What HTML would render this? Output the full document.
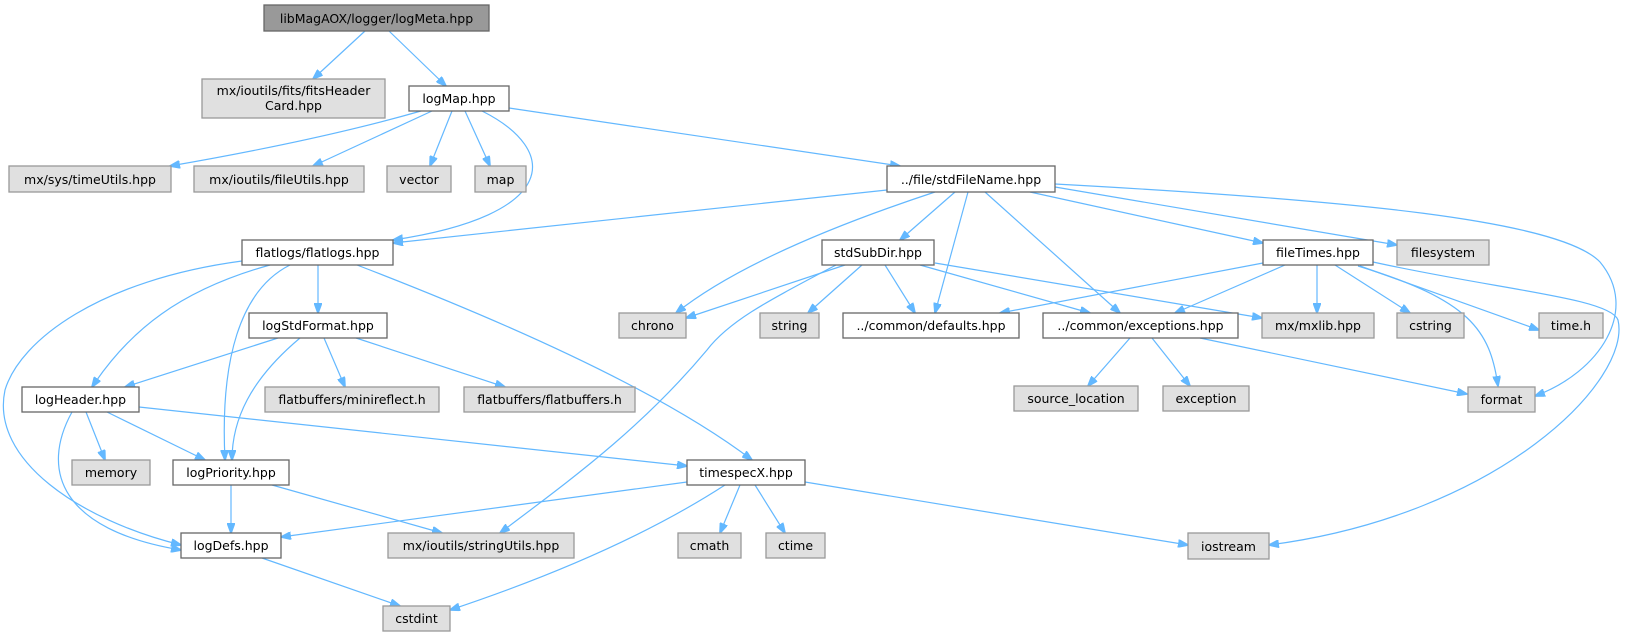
<!DOCTYPE html>
<html><head><meta charset="utf-8"><style>
html,body{margin:0;padding:0;background:#fff;}
svg{display:block;}
text{font-family:"DejaVu Sans","Liberation Sans",sans-serif;font-size:12.5px;fill:#000;text-anchor:middle;}
.w{fill:#fff;stroke:#666;stroke-width:1.3;}
.g{fill:#e0e0e0;stroke:#999;stroke-width:1.3;}
.r{fill:#999;stroke:#666;stroke-width:1.3;}
path{fill:none;stroke:#63b8ff;stroke-width:1.2;}
</style></head><body>
<svg width="1629" height="637" viewBox="0 0 1629 637" xmlns="http://www.w3.org/2000/svg">
<defs><marker id="a" markerWidth="11" markerHeight="8" refX="10" refY="4" orient="auto" markerUnits="userSpaceOnUse"><path d="M0,0 L11,4 L0,8 Z" style="fill:#63b8ff;stroke:#63b8ff;stroke-width:1"/></marker></defs>
<g marker-end="url(#a)">
<path d="M365,31 L313,79"/>
<path d="M389,31 L446,86"/>
<path d="M421,111 Q320,140 170,166"/>
<path d="M432,111 L313,166"/>
<path d="M452,111 L430,166"/>
<path d="M465,111 L490,166"/>
<path d="M482,111 C560,150 560,215 393,240"/>
<path d="M509,108 L900,166"/>
<path d="M887,190 L393,243"/>
<path d="M935,192 C820,230 730,270 676,313"/>
<path d="M955,192 L900,240"/>
<path d="M968,192 L935,313"/>
<path d="M985,192 L1120,313"/>
<path d="M1030,192 L1263,243"/>
<path d="M1055,187 L1397,245"/>
<path d="M1055,184 C1350,200 1560,220 1600,262 C1640,310 1600,372 1535,396"/>
<path d="M845,265 L686,318"/>
<path d="M862,265 L808,313"/>
<path d="M885,265 L915,313"/>
<path d="M920,265 L1090,313"/>
<path d="M935,263 L1262,318"/>
<path d="M836,265 C770,300 730,320 707,350 C640,430 570,480 500,533"/>
<path d="M1263,263 L1000,313"/>
<path d="M1285,265 L1175,313"/>
<path d="M1317,265 L1317,313"/>
<path d="M1335,265 L1410,313"/>
<path d="M1358,266 C1470,300 1490,330 1498,386"/>
<path d="M1360,266 L1539,330"/>
<path d="M1373,262 C1500,290 1610,298 1618,320 C1632,380 1500,515 1269,545"/>
<path d="M1130,338 L1088,386"/>
<path d="M1152,338 L1190,386"/>
<path d="M1200,338 L1467,394"/>
<path d="M318,265 L318,313"/>
<path d="M270,265 C180,290 130,330 92,387"/>
<path d="M290,265 C240,290 220,360 225,460"/>
<path d="M242,261 C100,280 20,340 5,390 C-10,460 80,520 181,545"/>
<path d="M357,265 C500,320 660,390 752,460"/>
<path d="M278,338 L125,387"/>
<path d="M324,338 L345,387"/>
<path d="M356,338 L505,387"/>
<path d="M300,338 C250,380 232,420 232,460"/>
<path d="M86,412 L105,460"/>
<path d="M107,412 L205,460"/>
<path d="M72,412 C40,470 60,530 181,550"/>
<path d="M139,407 L687,466"/>
<path d="M231,485 L231,533"/>
<path d="M272,485 L442,533"/>
<path d="M687,482 L281,537"/>
<path d="M725,485 C640,540 540,580 450,610"/>
<path d="M740,485 L720,533"/>
<path d="M755,485 L785,533"/>
<path d="M805,482 L1188,545"/>
<path d="M262,558 L400,606"/>
</g>
<rect class="r" x="264" y="5" width="225" height="26"/><text x="376.5" y="23">libMagAOX/logger/logMeta.hpp</text>
<rect class="g" x="202" y="79" width="183" height="39"/><text x="293.5" y="95">mx/ioutils/fits/fitsHeader</text><text x="293.5" y="110">Card.hpp</text>
<rect class="w" x="409" y="86" width="100" height="25"/><text x="459" y="103">logMap.hpp</text>
<rect class="g" x="9" y="166" width="162" height="26"/><text x="90" y="184">mx/sys/timeUtils.hpp</text>
<rect class="g" x="194" y="166" width="170" height="26"/><text x="279" y="184">mx/ioutils/fileUtils.hpp</text>
<rect class="g" x="387" y="166" width="64" height="26"/><text x="419" y="184">vector</text>
<rect class="g" x="475" y="166" width="51" height="26"/><text x="500.5" y="184">map</text>
<rect class="w" x="887" y="166" width="168" height="26"/><text x="971" y="184">../file/stdFileName.hpp</text>
<rect class="w" x="242" y="240" width="151" height="25"/><text x="317.5" y="257">flatlogs/flatlogs.hpp</text>
<rect class="w" x="822" y="240" width="112" height="25"/><text x="878" y="257">stdSubDir.hpp</text>
<rect class="w" x="1263" y="240" width="110" height="25"/><text x="1318" y="257">fileTimes.hpp</text>
<rect class="g" x="1397" y="240" width="92" height="25"/><text x="1443" y="257">filesystem</text>
<rect class="g" x="619" y="313" width="67" height="25"/><text x="652.5" y="330">chrono</text>
<rect class="g" x="760" y="313" width="59" height="25"/><text x="789.5" y="330">string</text>
<rect class="w" x="843" y="313" width="176" height="25"/><text x="931" y="330">../common/defaults.hpp</text>
<rect class="w" x="1043" y="313" width="195" height="25"/><text x="1140.5" y="330">../common/exceptions.hpp</text>
<rect class="g" x="1262" y="313" width="112" height="25"/><text x="1318" y="330">mx/mxlib.hpp</text>
<rect class="g" x="1397" y="313" width="67" height="25"/><text x="1430.5" y="330">cstring</text>
<rect class="g" x="1539" y="313" width="64" height="25"/><text x="1571" y="330">time.h</text>
<rect class="w" x="249" y="313" width="138" height="25"/><text x="318" y="330">logStdFormat.hpp</text>
<rect class="w" x="22" y="387" width="117" height="25"/><text x="80.5" y="404">logHeader.hpp</text>
<rect class="g" x="265" y="387" width="174" height="25"/><text x="352" y="404">flatbuffers/minireflect.h</text>
<rect class="g" x="464" y="387" width="171" height="25"/><text x="549.5" y="404">flatbuffers/flatbuffers.h</text>
<rect class="g" x="1014" y="386" width="124" height="25"/><text x="1076" y="403">source_location</text>
<rect class="g" x="1163" y="386" width="86" height="25"/><text x="1206" y="403">exception</text>
<rect class="g" x="1468" y="387" width="67" height="25"/><text x="1501.5" y="404">format</text>
<rect class="g" x="72" y="460" width="78" height="25"/><text x="111" y="477">memory</text>
<rect class="w" x="173" y="460" width="116" height="25"/><text x="231" y="477">logPriority.hpp</text>
<rect class="w" x="687" y="460" width="118" height="25"/><text x="746" y="477">timespecX.hpp</text>
<rect class="w" x="181" y="533" width="100" height="25"/><text x="231" y="550">logDefs.hpp</text>
<rect class="g" x="388" y="533" width="186" height="25"/><text x="481" y="550">mx/ioutils/stringUtils.hpp</text>
<rect class="g" x="678" y="533" width="63" height="25"/><text x="709.5" y="550">cmath</text>
<rect class="g" x="766" y="533" width="59" height="25"/><text x="795.5" y="550">ctime</text>
<rect class="g" x="1188" y="533" width="81" height="26"/><text x="1228.5" y="551">iostream</text>
<rect class="g" x="383" y="606" width="67" height="25"/><text x="416.5" y="623">cstdint</text>
</svg>
</body></html>
